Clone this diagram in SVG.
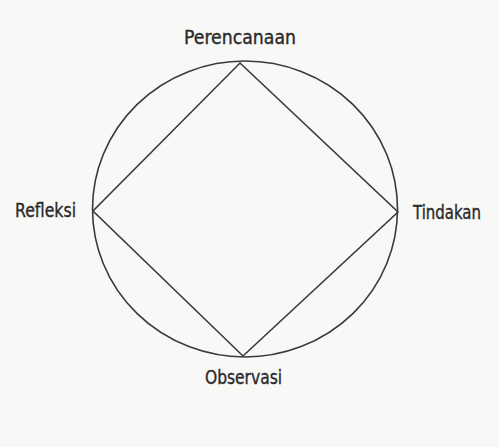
<svg xmlns="http://www.w3.org/2000/svg" width="499" height="447" viewBox="0 0 499 447">
  <style>
    .lbl { font-family: "DejaVu Sans Condensed", "Open Sans", "Liberation Sans", sans-serif; font-size: 19px; fill: #2a2a2a; stroke: #2a2a2a; stroke-width: 0.35; }
    .ln { fill: none; stroke: #3a3a3a; stroke-width: 1.6; stroke-linejoin: miter; }
  </style>
  <rect width="499" height="447" fill="#f8f8f7"/>
  <g id="cycle">
    <ellipse class="ln" cx="245" cy="209" rx="152.5" ry="148"/>
  </g>
  <g id="connectors">
    <polygon class="ln" points="240,63 398,212 243,356 93,211"/>
  </g>
  <g id="node-perencanaan">
    <text class="lbl" x="184" y="44" textLength="112" lengthAdjust="spacingAndGlyphs">Perencanaan</text>
  </g>
  <g id="node-tindakan">
    <text class="lbl" x="413" y="219" textLength="68" lengthAdjust="spacingAndGlyphs">Tindakan</text>
  </g>
  <g id="node-observasi">
    <text class="lbl" x="205" y="384" textLength="77" lengthAdjust="spacingAndGlyphs">Observasi</text>
  </g>
  <g id="node-refleksi">
    <text class="lbl" x="15" y="217" textLength="61" lengthAdjust="spacingAndGlyphs">Refleksi</text>
  </g>
</svg>
